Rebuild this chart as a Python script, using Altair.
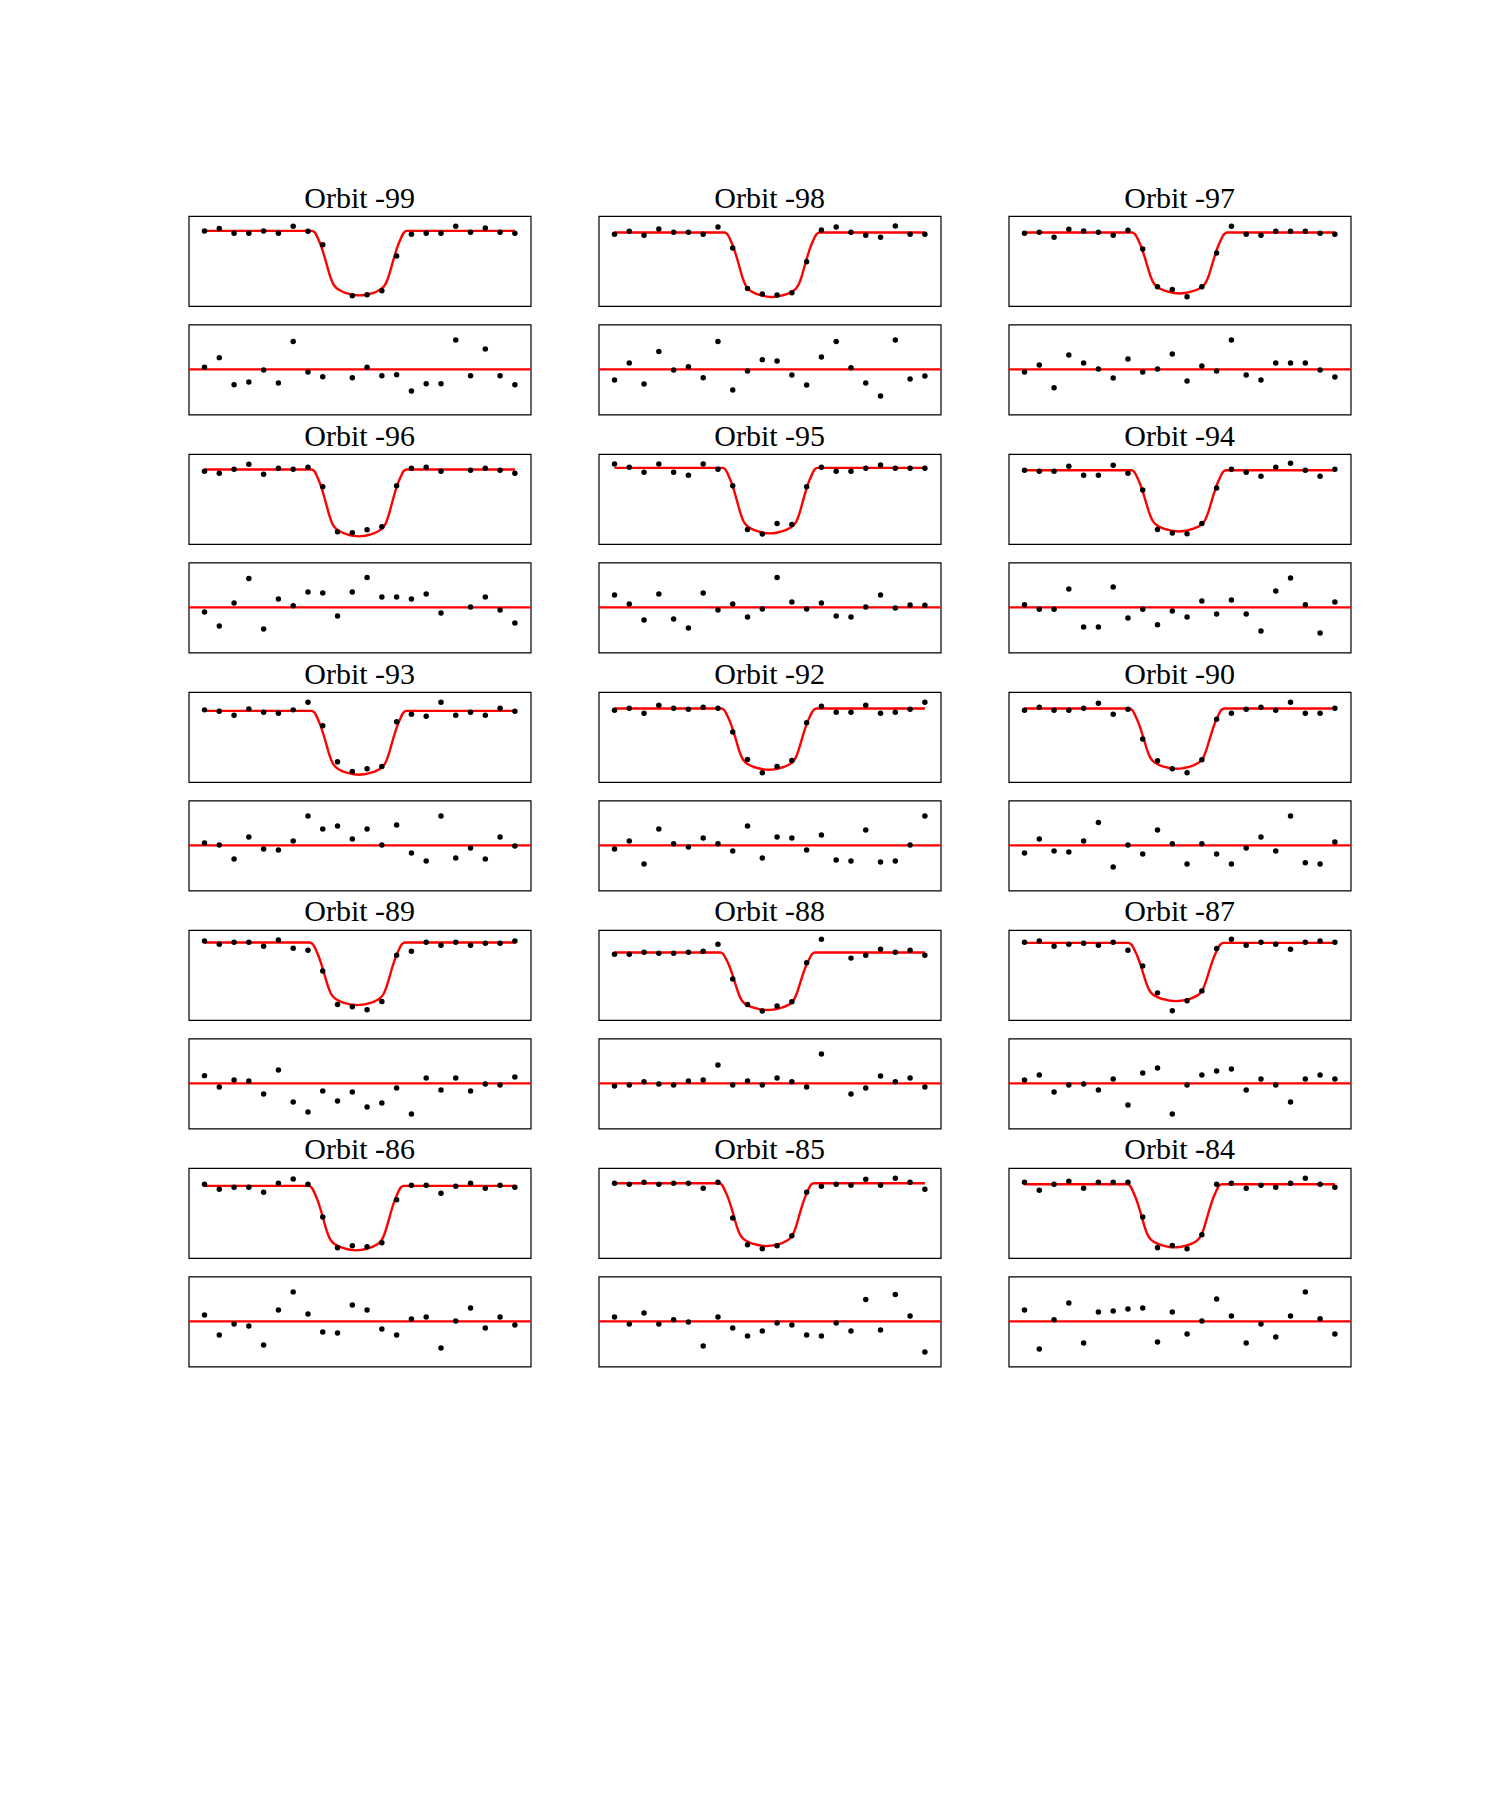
import altair as alt
import pandas as pd

# ---------------- data ----------------
ORBITS = [-99, -98, -97, -96, -95, -94, -93, -92, -90, -89, -88, -87, -86, -85, -84]
TIME_INDEX = list(range(22))

# relative flux (ppt) per exposure; None = no exposure
FLUX_99 = [0.5, 1.2, -0.2, -0.2, 0.5, -0.2, 1.9, 0.4, -3.7, None, -19.1, -18.8, -17.6, -7.1, -0.5, -0.2, -0.2, 1.9, 0.1, 1.4, 0.1, -0.2]
FLUX_98 = [-0.5, 0.4, -0.8, 1.1, 0.1, 0.1, -0.5, 1.7, -4.7, -16.9, -18.6, -18.9, -18.2, -8.8, 0.8, 1.7, 0.1, -0.8, -1.4, 2.0, -0.5, -0.5]
FLUX_97 = [-0.2, 0.1, -1.4, 1.0, 0.5, 0.1, -0.8, 0.7, -5.0, -16.4, -17.2, -19.4, -16.4, -6.2, 1.9, -0.5, -0.8, 0.4, 0.4, 0.4, -0.2, -0.5]
FLUX_96 = [-0.2, -0.8, 0.4, 1.9, -1.1, 0.7, 0.4, 1.0, -4.9, -18.5, -18.8, -17.9, -17.0, -4.6, 0.7, 1.0, -0.2, None, 0.1, 0.7, 0.1, -0.8]
FLUX_95 = [2.0, 1.0, -0.5, 2.0, -0.5, -1.4, 2.0, 0.4, -4.6, -17.8, -19.2, -16.0, -16.3, -4.9, 1.0, -0.2, -0.2, 0.7, 1.7, 0.7, 0.7, 0.7]
FLUX_94 = [0.1, -0.2, -0.2, 1.3, -1.4, -1.4, 1.6, -0.8, -5.9, -17.8, -18.9, -19.1, -16.0, -5.3, 0.4, -0.5, -1.7, 1.0, 2.2, 0.1, -1.7, 0.4]
FLUX_93 = [-0.4, -0.8, -2.0, -0.1, -1.1, -1.4, -0.4, 1.9, -5.2, -16.1, -19.0, -18.2, -17.5, -4.0, -1.7, -2.3, 1.9, -2.0, -1.1, -2.0, 0.1, -0.8]
FLUX_92 = [-0.5, 0.1, -1.4, 1.0, 0.1, -0.2, 0.4, 0.1, -7.1, -15.4, -19.4, -17.5, -15.7, -4.3, 0.7, -1.1, -1.1, 1.0, -1.4, -1.1, -0.2, 1.9]
FLUX_90 = [-0.5, 0.4, -0.5, -0.5, 0.1, 1.6, -1.7, -0.2, -9.2, -15.8, -18.2, -19.4, -15.5, -3.2, -1.4, -0.2, 0.4, -0.5, 1.9, -1.4, -1.4, 0.1]
FLUX_89 = [1.7, 0.7, 1.3, 1.3, 0.1, 2.0, -0.5, -1.1, -7.4, -17.5, -18.2, -19.1, -16.6, -2.6, -1.4, 1.3, 0.4, 1.3, 0.4, 1.0, 1.0, 1.7]
FLUX_88 = [-2.3, -2.3, -1.7, -2.0, -2.0, -1.7, -1.4, 0.7, -9.8, -17.5, -19.5, -18.0, -16.7, -4.9, 2.2, None, -3.5, -2.6, -0.8, -1.7, -1.1, -2.6]
FLUX_87 = [1.3, 1.7, 0.1, 0.7, 1.0, 0.4, 1.3, -1.1, -5.9, -14.0, -19.4, -16.4, -13.4, -0.6, 2.2, 0.4, 1.3, 0.7, -0.8, 1.3, 1.7, 1.3]
FLUX_86 = [0.1, -1.4, -0.8, -0.8, -2.3, 0.4, 1.7, 0.1, -9.8, -19.1, -18.5, -18.8, -17.6, -4.6, -0.2, -0.2, -2.6, -0.5, 0.4, -1.1, -0.2, -0.8]
FLUX_85 = [0.4, 0.1, 0.7, 0.1, 0.4, 0.4, -1.1, 0.7, -10.1, -18.2, -19.4, -18.5, -15.5, -2.3, -0.5, 0.1, -0.2, 1.6, -0.2, 1.9, 0.7, -1.4]
FLUX_84 = [0.7, -1.7, 0.1, 1.0, -1.1, 0.7, 0.7, 0.7, -9.8, -19.1, -18.4, -19.4, -15.2, 0.1, 0.4, -1.1, -0.2, -0.8, 0.4, 1.9, 0.1, -0.8]

# residuals (scaled)
RES_99 = [0.6, 3.5, -4.6, -3.8, -0.2, -4.1, 8.3, -0.8, -2.2, None, -2.5, 0.6, -1.9, -1.6, -6.5, -4.3, -4.3, 8.8, -1.9, 6.1, -1.9, -4.6]
RES_98 = [-3.2, 1.9, -4.4, 5.3, -0.2, 0.8, -2.5, 8.3, -6.2, -0.5, 2.9, 2.5, -1.7, -4.7, 3.7, 8.3, 0.5, -4.1, -8.0, 8.8, -2.9, -2.0]
RES_97 = [-0.8, 1.3, -5.5, 4.3, 1.9, 0.1, -2.6, 3.1, -0.8, 0.1, 4.6, -3.5, 1.0, -0.5, 8.8, -1.7, -3.2, 1.9, 1.9, 1.9, -0.2, -2.3]
RES_96 = [-1.4, -5.6, 1.3, 8.6, -6.5, 2.5, 0.5, 4.6, 4.3, -2.6, 4.6, 8.9, 3.1, 3.1, 2.5, 4.0, -1.7, None, 0.1, 3.1, -0.8, -4.7]
RES_95 = [3.7, 1.0, -3.8, 4.0, -3.5, -6.2, 4.3, -0.8, 1.0, -2.9, -0.5, 8.9, 1.6, -0.5, 1.3, -2.6, -2.9, 0.1, 3.7, -0.2, 0.7, 0.6]
RES_94 = [0.8, -0.6, -0.6, 5.5, -5.9, -5.9, 6.1, -3.2, -0.6, -5.2, -1.1, -2.9, 1.9, -2.0, 2.2, -2.0, -7.1, 4.9, 8.8, 0.8, -7.7, 1.6]
RES_93 = [0.7, 0.1, -4.1, 2.5, -1.1, -1.4, 1.3, 8.8, 4.9, 5.8, 1.9, 4.9, 0.1, 6.1, -2.3, -4.7, 8.8, -3.8, -0.8, -4.1, 2.5, -0.2]
RES_92 = [-1.1, 1.3, -5.6, 4.9, 0.5, -0.5, 2.2, 0.5, -1.7, 5.8, -3.8, 2.5, 2.2, -1.4, 3.1, -4.4, -4.7, 4.6, -5.0, -4.7, 0.1, 8.8]
RES_90 = [-2.3, 1.9, -1.7, -2.0, 1.3, 6.8, -6.5, 0.1, -2.6, 4.6, 0.5, -5.6, 0.5, -2.6, -5.6, -0.8, 2.5, -1.7, 8.8, -5.2, -5.6, 1.0]
RES_89 = [2.3, -1.1, 1.0, 0.7, -3.2, 4.0, -5.6, -8.6, -2.3, -5.3, -2.6, -7.1, -5.9, -1.4, -9.2, 1.6, -2.0, 1.6, -2.3, -0.2, -0.5, 1.9]
RES_88 = [-0.8, -0.5, 0.5, -0.2, -0.5, 0.7, 1.0, 5.5, -0.5, 0.7, -0.5, 1.6, 0.5, -1.1, 8.8, None, -3.2, -1.4, 2.2, 0.5, 1.6, -1.1]
RES_87 = [1.0, 2.5, -2.6, -0.5, -0.2, -2.0, 1.3, -6.5, 3.1, 4.6, -9.2, -0.5, 2.5, 3.7, 4.3, -2.0, 1.3, -0.5, -5.6, 1.3, 2.5, 1.3]
RES_86 = [1.9, -4.1, -0.8, -1.4, -7.1, 3.4, 8.8, 2.2, -3.2, -3.5, 4.9, 3.4, -2.3, -4.1, 0.7, 1.3, -8.0, 0.1, 4.0, -2.0, 1.3, -1.1]
RES_85 = [1.3, -0.8, 2.5, -0.8, 0.5, -0.2, -7.4, 1.3, -2.0, -4.4, -2.9, -0.5, -1.1, -4.1, -4.4, -0.5, -2.9, 6.5, -2.6, 8.0, 1.6, -9.2]
RES_84 = [3.4, -8.3, 0.5, 5.5, -6.5, 2.8, 3.1, 3.7, 4.0, -6.2, 2.8, -3.8, 0.1, 6.7, 1.6, -6.5, -0.8, -4.7, 1.6, 8.8, 0.8, -3.8]

FLUX_SERIES = [FLUX_99, FLUX_98, FLUX_97, FLUX_96, FLUX_95, FLUX_94, FLUX_93, FLUX_92,
               FLUX_90, FLUX_89, FLUX_88, FLUX_87, FLUX_86, FLUX_85, FLUX_84]
RES_SERIES = [RES_99, RES_98, RES_97, RES_96, RES_95, RES_94, RES_93, RES_92,
              RES_90, RES_89, RES_88, RES_87, RES_86, RES_85, RES_84]

# fitted transit model per orbit
MID_TIME = [10.48, 10.65, 10.49, 10.45, 10.52, 10.43, 10.45, 10.44, 10.30, 10.34, 10.36, 10.24, 10.26, 10.28, 10.15]
BASELINE = [0.5, 0.0, 0.0, 0.3, 0.8, 0.1, -0.7, 0.0, 0.0, 1.2, -1.8, 1.1, -0.4, 0.4, 0.1]
DEPTH = [19.5, 19.5, 18.4, 20.2, 19.8, 18.5, 19.3, 18.5, 18.2, 18.9, 17.4, 17.6, 19.5, 19.0, 19.1]

# transit shape template: offset from mid-time, fractional depth
TEMPLATE_OFFSET = [-3.2, -3.1, -3.0, -2.9, -2.8, -2.6, -2.4, -2.2, -2.0, -1.8, -1.6, -1.4, -1.2, -1.0, -0.7, -0.35,
                   0.0, 0.35, 0.7, 1.0, 1.2, 1.4, 1.6, 1.8, 2.0, 2.2, 2.4, 2.6, 2.8, 2.9, 3.0, 3.1, 3.2]
TEMPLATE_SHAPE = [0.0, 0.01, 0.03, 0.07, 0.12, 0.23, 0.37, 0.53, 0.69, 0.81, 0.875, 0.91, 0.935, 0.955, 0.975, 0.993,
                  1.0, 0.993, 0.975, 0.955, 0.935, 0.91, 0.875, 0.81, 0.69, 0.53, 0.37, 0.23, 0.12, 0.07, 0.03, 0.01, 0.0]

# ---------------- chart ----------------
W, H = 342, 90
x_scale = alt.Scale(domain=[-1.07, 22.07], nice=False, zero=False)
flux_scale = alt.Scale(domain=[-22.2, 5.0], nice=False, zero=False)
res_scale = alt.Scale(domain=[-13.5, 13.4], nice=False, zero=False)
RED = "#ff0000"
DOT = 30


def orbit_block(k):
    pts = pd.DataFrame({"t": TIME_INDEX, "flux": FLUX_SERIES[k], "resid": RES_SERIES[k]}).dropna()
    mt, base, dep = MID_TIME[k], BASELINE[k], DEPTH[k]
    cx = [TIME_INDEX[0]] + [mt + o for o in TEMPLATE_OFFSET] + [TIME_INDEX[-1]]
    cy = [base] + [base - dep * s for s in TEMPLATE_SHAPE] + [base]
    curve = pd.DataFrame({"t": cx, "flux": cy})
    zero = pd.DataFrame({"resid": [0.0]})

    X = alt.X("t:Q", scale=x_scale, axis=None)
    top = alt.layer(
        alt.Chart(curve).mark_line(color=RED, strokeWidth=2.4, interpolate="monotone").encode(
            x=X, y=alt.Y("flux:Q", scale=flux_scale, axis=None)),
        alt.Chart(pts).mark_circle(color="black", size=DOT, opacity=1).encode(
            x=X, y=alt.Y("flux:Q", scale=flux_scale, axis=None)),
    ).properties(
        width=W, height=H,
        title=alt.TitleParams(text=f"Orbit {ORBITS[k]}", font="Liberation Serif", fontSize=30,
                              fontWeight="normal", color="black", baseline="alphabetic",
                              offset=-21.5, anchor="middle"),
    )
    res = alt.layer(
        alt.Chart(zero).mark_rule(color=RED, strokeWidth=2.4).encode(
            y=alt.Y("resid:Q", scale=res_scale, axis=None)),
        alt.Chart(pts).mark_circle(color="black", size=DOT, opacity=1).encode(
            x=X, y=alt.Y("resid:Q", scale=res_scale, axis=None)),
    ).properties(width=W, height=H)
    return alt.vconcat(top, res, spacing=16.5)


rows = []
for r in range(5):
    rows.append(alt.hconcat(*[orbit_block(3 * r + c) for c in range(3)], spacing=64))

chart = alt.vconcat(*rows, spacing=4).properties(
    padding={"left": 186.7, "top": 182, "right": 10, "bottom": 10},
    background="white",
).configure_view(stroke="black", strokeWidth=1.2)

chart.save("out.html", embed_options={"renderer": "svg", "actions": False})
